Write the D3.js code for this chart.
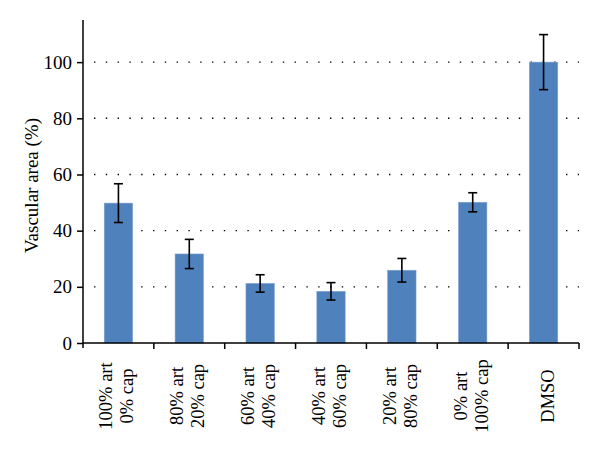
<!doctype html>
<html>
<head>
  <meta charset="utf-8">
  <title>Vascular area</title>
  <script src="https://cdnjs.cloudflare.com/ajax/libs/d3/7.8.5/d3.min.js"></script>
  <style>
    html, body { margin: 0; padding: 0; background: #fff; }
    text { font-family: "Liberation Serif", "DejaVu Serif", serif; fill: #000; }
  </style>
</head>
<body>
  <div id="chart"></div>
  <script>
    // data
    const categories = [
      ["100% art", "0% cap"],
      ["80% art", "20% cap"],
      ["60% art", "40% cap"],
      ["40% art", "60% cap"],
      ["20% art", "80% cap"],
      ["0% art", "100% cap"],
      ["DMSO"]
    ];
    const values = [49.8, 31.7, 21.2, 18.4, 25.9, 50.1, 100];
    const errors = [6.9, 5.2, 3.1, 3.1, 4.2, 3.4, 9.8];
    const yTicks = [0, 20, 40, 60, 80, 100];

    const width = 600, height = 457;
    const margin = {top: 20, right: 21, bottom: 114, left: 83};

    const svg = d3.select('#chart')
      .append('svg')
      .attr('width', width)
      .attr('height', height);

    const x = d3.scaleBand()
      .domain(d3.range(categories.length))
      .range([margin.left, width - margin.right])
      .paddingInner(0.6)
      .paddingOuter(0.3);

    const y = d3.scaleLinear()
      .domain([0, 115])
      .range([height - margin.bottom, margin.top]);

    // dotted gridlines
    svg.append('g')
      .selectAll('line')
      .data(yTicks.slice(1))
      .join('line')
      .attr('x1', margin.left + 11)
      .attr('x2', width - margin.right)
      .attr('y1', d => y(d))
      .attr('y2', d => y(d))
      .style('stroke', '#000')
      .style('stroke-width', 1.4)
      .style('stroke-dasharray', '1.4 10.4');

    // bars
    svg.append('g')
      .selectAll('rect')
      .data(values)
      .join('rect')
      .attr('x', (d, i) => x(i))
      .attr('width', x.bandwidth())
      .attr('y', d => y(d))
      .attr('height', d => y(0) - y(d))
      .style('fill', '#4f81bd')
      .style('stroke', '#7aa0cf')
      .style('stroke-width', 0.6);

    // error bars
    const eb = svg.append('g')
      .selectAll('g')
      .data(values)
      .join('g')
      .attr('transform', (d, i) => `translate(${x(i) + x.bandwidth() / 2},0)`);
    eb.append('line')
      .attr('y1', (d, i) => y(d + errors[i]))
      .attr('y2', (d, i) => y(d - errors[i]));
    eb.append('line')
      .attr('x1', -4.5).attr('x2', 4.5)
      .attr('y1', (d, i) => y(d + errors[i]))
      .attr('y2', (d, i) => y(d + errors[i]));
    eb.append('line')
      .attr('x1', -4.5).attr('x2', 4.5)
      .attr('y1', (d, i) => y(d - errors[i]))
      .attr('y2', (d, i) => y(d - errors[i]));
    eb.selectAll('line')
      .style('stroke', '#000')
      .style('stroke-width', 1.6);

    // y axis
    const yAxis = svg.append('g')
      .attr('transform', `translate(${margin.left},0)`)
      .call(d3.axisLeft(y).tickValues(yTicks).tickSize(6).tickPadding(5).tickSizeOuter(0));
    yAxis.select('.domain').attr('d', `M0,${margin.top}V${y(0) + 5}`);
    yAxis.selectAll('line, path').style('stroke', '#000').style('stroke-width', 1.5);
    yAxis.selectAll('text').style('font-size', '19px');

    // x axis with ticks at category boundaries
    const step = x.step();
    const bounds = d3.range(categories.length + 1).map(i => margin.left + i * step);
    const xAxis = svg.append('g');
    xAxis.append('line')
      .attr('x1', margin.left).attr('x2', width - margin.right)
      .attr('y1', y(0)).attr('y2', y(0));
    xAxis.selectAll('.tk')
      .data(bounds.slice(1))
      .join('line')
      .attr('class', 'tk')
      .attr('x1', d => d).attr('x2', d => d)
      .attr('y1', y(0)).attr('y2', y(0) + 6);
    xAxis.selectAll('line').style('stroke', '#000').style('stroke-width', 1.5);

    // rotated category labels
    const lineGap = 21;
    const labels = svg.append('g')
      .selectAll('text')
      .data(categories)
      .join('text')
      .attr('transform', (d, i) => {
        const cx = x(i) + x.bandwidth() / 2 + (d.length === 1 ? 4 : -2);
        return `translate(${cx},396) rotate(-90)`;
      })
      .attr('text-anchor', 'middle')
      .style('font-size', '18.5px');
    labels.selectAll('tspan')
      .data(d => d.map((t, j) => ({t, j, n: d.length})))
      .join('tspan')
      .attr('x', 0)
      .attr('y', d => (d.j - (d.n - 1) / 2) * lineGap)
      .attr('dy', '0.35em')
      .text(d => d.t);

    // y axis title
    svg.append('text')
      .attr('transform', `translate(38,${(margin.top + y(0)) / 2 + 4}) rotate(-90)`)
      .attr('text-anchor', 'middle')
      .style('font-size', '19px')
      .text('Vascular area (%)');
  </script>
</body>
</html>
